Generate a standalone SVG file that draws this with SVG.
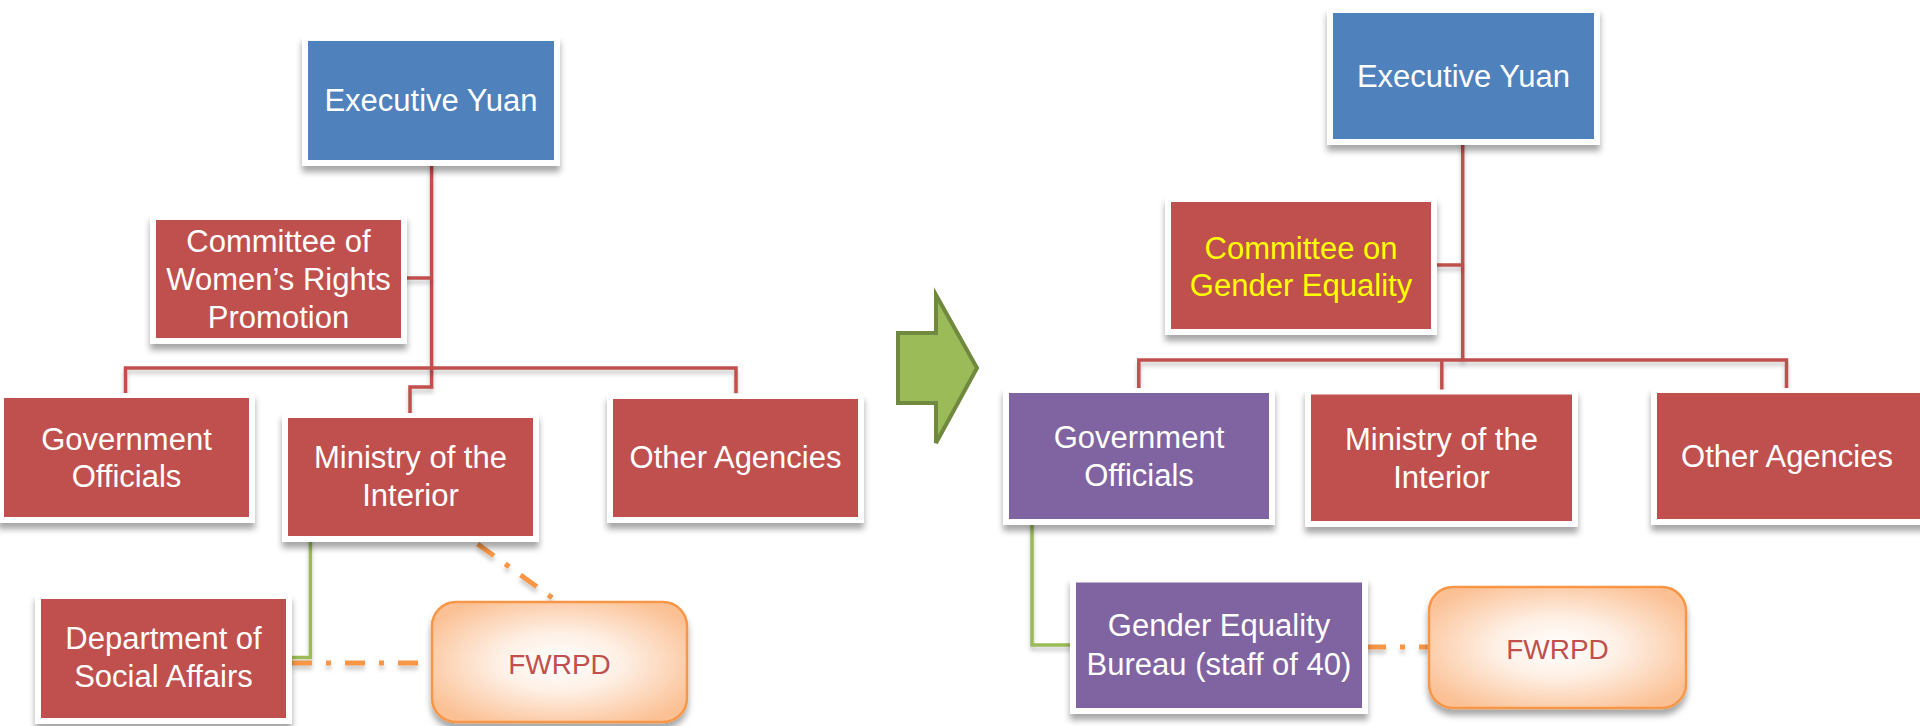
<svg xmlns="http://www.w3.org/2000/svg" width="1920" height="726" viewBox="0 0 1920 726">
<defs>
<filter id="sh" filterUnits="userSpaceOnUse" x="0" y="0" width="1920" height="726">
<feDropShadow dx="0" dy="6" stdDeviation="3" flood-color="#000" flood-opacity="0.35"/>
</filter>
<filter id="lsh" filterUnits="userSpaceOnUse" x="0" y="0" width="1920" height="726">
<feDropShadow dx="0" dy="4" stdDeviation="2" flood-color="#000" flood-opacity="0.22"/>
</filter>
<radialGradient id="peach" cx="50%" cy="50%" r="60%">
<stop offset="0" stop-color="#FFFFFF"/>
<stop offset="0.4" stop-color="#FEF0E5"/>
<stop offset="1" stop-color="#FBC094"/>
</radialGradient>
</defs>
<style>
.frame{fill:#FFFFFF;filter:url(#sh)}
.red{fill:#C0504D}
.blue{fill:#4F81BD}
.purple{fill:#8064A2}
.fw{fill:url(#peach);stroke:#F79646;stroke-width:2.5;filter:url(#sh)}
text{font-family:"Liberation Sans",Arial,sans-serif;font-size:31px;text-anchor:middle;fill:#FFFFFF}
.yel{fill:#FFFF00}
.fwt{fill:#C0504D;font-size:28px}
.rl{fill:none;stroke:#C0504D;stroke-width:3.5;filter:url(#lsh)}
.gl{fill:none;stroke:#9BBB59;stroke-width:3.5;filter:url(#lsh)}
.ol{fill:none;stroke:#F79646;stroke-width:5;stroke-dasharray:20 14 5 14;filter:url(#lsh)}
</style>
<rect width="1920" height="726" fill="#FFFFFF"/>
<g id="connectors">
<path class="rl" d="M431.6,160 V387 H410 V413"/>
<path class="rl" d="M125.5,393 V368 H736 V393"/>
<path class="rl" d="M401,278 H431.6"/>
<path class="gl" d="M310.4,536 V657.5 H286"/>
<path class="ol" d="M292,663 H428"/>
<path class="ol" d="M477.6,544 L558,602"/>
<path class="rl" d="M1462.7,139 V361"/>
<path class="rl" d="M1138.8,388 V360 H1786.5 V388"/>
<path class="rl" d="M1441.8,361 V390"/>
<path class="rl" d="M1431,265 H1462.7"/>
<path class="gl" d="M1032,519 V645 H1076"/>
<path class="ol" d="M1366,647 H1429"/>
</g>
<g id="arrow">
<polygon points="898,333 936,333 936,295 977,368 936,443 936,403 898,403" fill="#9BBB59" stroke="#71893F" stroke-width="4" stroke-linejoin="miter"/>
</g>
<g id="exec-left">
<rect class="frame" x="302" y="36" width="258" height="130"/>
<rect class="blue" x="308" y="41" width="246" height="119"/>
<text x="431" y="111">Executive Yuan</text>
</g>
<g id="committee-women">
<rect class="frame" x="150" y="215" width="257" height="129"/>
<rect class="red" x="156" y="220" width="245" height="118"/>
<text x="278.5" y="252">Committee of</text>
<text x="278.5" y="290">Women’s Rights</text>
<text x="278.5" y="328">Promotion</text>
</g>
<g id="gov-left">
<rect class="frame" x="-2" y="393" width="257" height="130"/>
<rect class="red" x="4" y="398" width="245" height="119"/>
<text x="126.5" y="450">Government</text>
<text x="126.5" y="487">Officials</text>
</g>
<g id="ministry-left">
<rect class="frame" x="282" y="413" width="257" height="129"/>
<rect class="red" x="288" y="418" width="245" height="118"/>
<text x="410.5" y="468">Ministry of the</text>
<text x="410.5" y="506">Interior</text>
</g>
<g id="other-left">
<rect class="frame" x="607" y="394" width="257" height="129"/>
<rect class="red" x="613" y="399" width="245" height="118"/>
<text x="735.5" y="468">Other Agencies</text>
</g>
<g id="dept-social">
<rect class="frame" x="35" y="594" width="257" height="130"/>
<rect class="red" x="41" y="599" width="245" height="119"/>
<text x="163.5" y="649">Department of</text>
<text x="163.5" y="687">Social Affairs</text>
</g>
<g id="fwrpd-left">
<rect class="fw" x="432" y="602" width="255" height="120" rx="24"/>
<text class="fwt" x="559.5" y="674">FWRPD</text>
</g>
<g id="exec-right">
<rect class="frame" x="1327" y="8" width="273" height="137"/>
<rect class="blue" x="1333" y="13" width="261" height="126"/>
<text x="1463.5" y="87">Executive Yuan</text>
</g>
<g id="committee-gender">
<rect class="frame" x="1165" y="197" width="272" height="138"/>
<rect class="red" x="1171" y="202" width="260" height="127"/>
<text class="yel" x="1301" y="259">Committee on</text>
<text class="yel" x="1301" y="296">Gender Equality</text>
</g>
<g id="gov-right">
<rect class="frame" x="1003" y="388" width="272" height="137"/>
<rect class="purple" x="1009" y="393" width="260" height="126"/>
<text x="1139" y="448">Government</text>
<text x="1139" y="486">Officials</text>
</g>
<g id="ministry-right">
<rect class="frame" x="1305" y="389.5" width="273" height="137.5"/>
<rect class="red" x="1311" y="394.5" width="261" height="126.5"/>
<text x="1441.5" y="450">Ministry of the</text>
<text x="1441.5" y="488">Interior</text>
</g>
<g id="other-right">
<rect class="frame" x="1651" y="388" width="275" height="137"/>
<rect class="red" x="1657" y="393" width="263" height="126"/>
<text x="1787" y="467">Other Agencies</text>
</g>
<g id="bureau">
<rect class="frame" x="1070" y="577.5" width="298" height="136.5"/>
<rect class="purple" x="1076" y="582.5" width="286" height="125.5"/>
<text x="1219" y="636">Gender Equality</text>
<text x="1219" y="675">Bureau (staff of 40)</text>
</g>
<g id="fwrpd-right">
<rect class="fw" x="1429" y="587" width="257" height="121" rx="24"/>
<text class="fwt" x="1557.5" y="659">FWRPD</text>
</g>
</svg>
